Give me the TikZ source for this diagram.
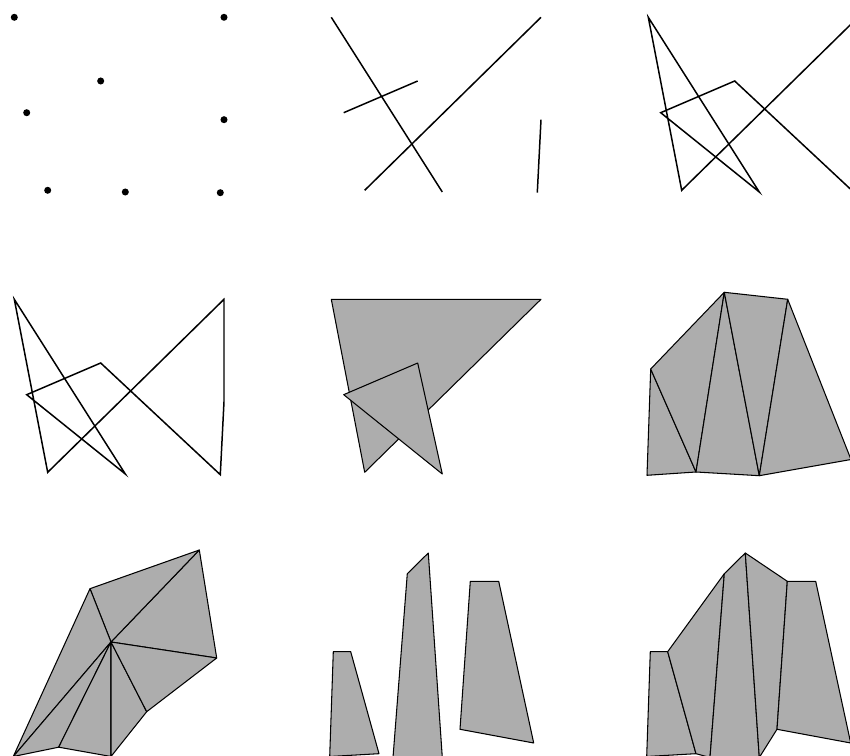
\documentclass[tikz,border=0pt]{standalone}
\usepackage{tikz}
\usetikzlibrary{calc}

\tikzset{
  seg/.style={line width=0.85pt},
  piece/.style={fill=black!32, draw=black, line width=0.6pt, line join=round},
  dot/.style={fill=black}
}

% the eight points (panel coordinates, in pixels)
\newcommand{\ptset}{%
  \coordinate (p1) at (14.3,17.3);
  \coordinate (p2) at (224,17.3);
  \coordinate (p3) at (100.7,81);
  \coordinate (p4) at (26.7,112.7);
  \coordinate (p5) at (224,119.7);
  \coordinate (p6) at (47.7,190.3);
  \coordinate (p7) at (125.3,192);
  \coordinate (p8) at (220.3,192.7);
}

% the three pieces of the bottom row
\newcommand{\trapset}{%
  \coordinate (a1) at (16.3,651.7);
  \coordinate (a2) at (33.7,651.7);
  \coordinate (a3) at (62,753.7);
  \coordinate (a4) at (12.7,756.5);
  \coordinate (b1) at (90.3,573.7);
  \coordinate (b2) at (111.3,553);
  \coordinate (b3) at (125.3,757.5);
  \coordinate (b4) at (76,757.5);
  \coordinate (c1) at (153.3,581.3);
  \coordinate (c2) at (181.7,581.3);
  \coordinate (c3) at (216.7,743);
  \coordinate (c4) at (143,729.3);
}

\begin{document}
\begin{tikzpicture}[x=0.02cm, y=-0.02cm]
  \useasboundingbox (0,0) rectangle (850,756);
  \clip (0,0) rectangle (850,756);

  % Row 1, left: points
  \ptset
  \foreach \i in {1,...,8}
    \fill[dot] (p\i) circle[radius=2pt];

  % Row 1, middle: segments
  \begin{scope}[shift={(317,0)}]
    \ptset
    \draw[seg] (p1) -- (p7);
    \draw[seg] (p6) -- (p2);
    \draw[seg] (p4) -- (p3);
    \draw[seg] (p5) -- (p8);
  \end{scope}

  % Row 1, right: open chain
  \begin{scope}[shift={(634,0)}]
    \ptset
    \draw[seg] (p2) -- (p6) -- (p1) -- (p7) -- (p4) -- (p3) -- (p8);
  \end{scope}

  % Row 2, left: closed chain
  \begin{scope}[shift={(0,282)}]
    \ptset
    \draw[seg] (p1) -- (p7) -- (p4) -- (p3) -- (p8) -- (p5) -- (p2) -- (p6) -- cycle;
  \end{scope}

  % Row 2, middle: two triangles
  \begin{scope}[shift={(317,282)}]
    \ptset
    \draw[piece] (p1) -- (p2) -- (p6) -- cycle;
    \draw[piece] (p4) -- (p3) -- (p7) -- cycle;
  \end{scope}

  % Row 2, right: zigzag triangulation
  \coordinate (t1) at (724.3,292.3);
  \coordinate (t2) at (787.7,299.3);
  \coordinate (t3) at (851,459.5);
  \coordinate (t4) at (759.3,475.7);
  \coordinate (t5) at (696,472);
  \coordinate (t6) at (647,475.3);
  \coordinate (t7) at (650.7,369);
  \draw[piece] (t7) -- (t6) -- (t5) -- cycle;
  \draw[piece] (t7) -- (t5) -- (t1) -- cycle;
  \draw[piece] (t1) -- (t5) -- (t4) -- cycle;
  \draw[piece] (t1) -- (t4) -- (t2) -- cycle;
  \draw[piece] (t2) -- (t4) -- (t3) -- cycle;

  % Row 3, left: fan around hub
  \coordinate (hub) at (111,642);
  \coordinate (f1) at (199.3,550);
  \coordinate (f2) at (90,588.7);
  \coordinate (f3) at (13.3,756.5);
  \coordinate (f4) at (58.7,747.2);
  \coordinate (f5) at (111,756.5);
  \coordinate (f6) at (146.7,711.7);
  \coordinate (f7) at (216.7,658);
  \foreach \j [remember=\j as \k (initially 7)] in {1,...,7}
    \draw[piece] (hub) -- (f\k) -- (f\j) -- cycle;

  % Row 3, middle: three pieces
  \begin{scope}[shift={(317,0)}]
    \trapset
    \draw[piece] (a1) -- (a2) -- (a3) -- (a4) -- cycle;
    \draw[piece] (b1) -- (b2) -- (b3) -- (b4) -- cycle;
    \draw[piece] (c1) -- (c2) -- (c3) -- (c4) -- cycle;
  \end{scope}

  % Row 3, right: pieces joined
  \begin{scope}[shift={(634,0)}]
    \trapset
    \draw[piece] (a1) -- (a2) -- (a3) -- (a4) -- cycle;
    \draw[piece] (a2) -- (b1) -- (b4) -- (a3) -- cycle;
    \draw[piece] (b1) -- (b2) -- (b3) -- (b4) -- cycle;
    \draw[piece] (b2) -- (c1) -- (c4) -- (b3) -- cycle;
    \draw[piece] (c1) -- (c2) -- (c3) -- (c4) -- cycle;
  \end{scope}
\end{tikzpicture}
\end{document}
